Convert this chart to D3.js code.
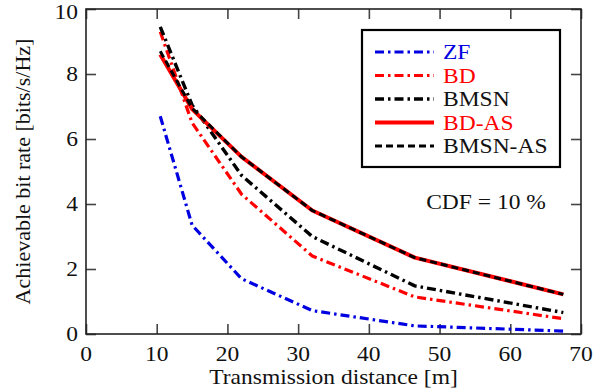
<!DOCTYPE html>
<html>
<head>
<meta charset="utf-8">
<script src="https://cdn.jsdelivr.net/npm/d3@7"></script>
<style>
  body { margin: 0; background: #fff; }
  text { font-family: "Liberation Serif", "Times New Roman", serif; fill: #111; }
</style>
</head>
<body>
<svg id="chart" width="616" height="391"></svg>
<script>
// transmission distance [m] and achievable bit rate per scheme
const distance = [10.5, 15, 22, 32, 46.5, 67.5];
const zf     = [6.7, 3.35, 1.7, 0.72, 0.25, 0.09];
const bd     = [9.3, 6.5, 4.3, 2.4, 1.14, 0.47];
const bmsn   = [9.45, 7.05, 4.88, 3.0, 1.48, 0.66];
const bdAs   = [8.6, 6.92, 5.45, 3.8, 2.35, 1.22];
const bmsnAs = [8.7, 6.95, 5.45, 3.8, 2.35, 1.22];
const seriesNames = ["ZF", "BD", "BMSN", "BD-AS", "BMSN-AS"];
const xTicks = [0, 10, 20, 30, 40, 50, 60, 70];
const yTicks = [0, 2, 4, 6, 8, 10];

const styles = {
    "ZF":      {color: "#0000e0", width: 3.2, dash: "9,4,2.5,4"},
    "BD":      {color: "#ff0000", width: 3.2, dash: "9,4,2.5,4"},
    "BMSN":    {color: "#000000", width: 3.4, dash: "9,4,2.5,4"},
    "BD-AS":   {color: "#ff0000", width: 4, dash: null},
    "BMSN-AS": {color: "#000000", width: 3, dash: "7,4"}
};
const valuesByName = {"ZF": zf, "BD": bd, "BMSN": bmsn, "BD-AS": bdAs, "BMSN-AS": bmsnAs};

const margin = {top: 9, left: 86, right: 35, bottom: 57},
    W = 616, H = 391,
    width = W - margin.left - margin.right,
    height = H - margin.top - margin.bottom,
    sx = 1.12, fs = 21;

const svg = d3.select("#chart");
const g = svg.append("g").attr("transform", "translate(" + margin.left + "," + margin.top + ")");

const x = d3.scaleLinear().domain([0, 70]).range([0, width]);
const y = d3.scaleLinear().domain([0, 10]).range([height, 0]);

function label(parent, px, py, str, anchor, color) {
    return parent.append("text")
        .attr("transform", "translate(" + px + "," + py + ") scale(" + sx + ",1)")
        .attr("text-anchor", anchor || "start")
        .style("font-size", fs + "px")
        .style("fill", color || "#111")
        .text(str);
}

// axes with inward ticks on all sides
const tl = 10;
g.append("g").attr("transform", "translate(0," + height + ")")
    .call(d3.axisBottom(x).tickValues(xTicks).tickSize(-tl).tickFormat(""));
g.append("g")
    .call(d3.axisTop(x).tickValues(xTicks).tickSize(-tl).tickFormat(""));
g.append("g")
    .call(d3.axisLeft(y).tickValues(yTicks).tickSize(-tl).tickFormat(""));
g.append("g").attr("transform", "translate(" + width + ",0)")
    .call(d3.axisRight(y).tickValues(yTicks).tickSize(-tl).tickFormat(""));
g.selectAll(".domain").remove();
g.selectAll(".tick line").attr("stroke", "#444").attr("stroke-width", 1.6);

xTicks.forEach(function(d) {
    label(g, x(d), height + 27, d, "middle");
});
yTicks.forEach(function(d) {
    // keep the top label inside the page
    label(g, -8, Math.max(y(d) + 7, 10), d, "end");
});

label(svg, margin.left + width / 2, 384, "Transmission distance [m]", "middle");
svg.append("text")
    .attr("transform", "translate(30," + (margin.top + height / 2) + ") rotate(-90)")
    .attr("text-anchor", "middle")
    .style("font-size", "22px")
    .text("Achievable bit rate [bits/s/Hz]");

// lines
const line = d3.line()
    .x(function(d) { return x(d[0]); })
    .y(function(d) { return y(d[1]); });

seriesNames.forEach(function(name) {
    const s = styles[name];
    const pts = distance.map(function(d, i) { return [d, valuesByName[name][i]]; });
    g.append("path")
        .datum(pts)
        .attr("d", line)
        .attr("fill", "none")
        .attr("stroke", s.color)
        .attr("stroke-width", s.width)
        .attr("stroke-dasharray", s.dash)
        .attr("stroke-linejoin", "round");
});

// frame
g.append("rect")
    .attr("width", width).attr("height", height)
    .attr("fill", "none").attr("stroke", "#222").attr("stroke-width", 1.6);

// legend
const lg = svg.append("g");
lg.append("rect")
    .attr("x", 362).attr("y", 30).attr("width", 198).attr("height", 137)
    .attr("fill", "#fff").attr("stroke", "#000").attr("stroke-width", 2.2);
seriesNames.forEach(function(name, i) {
    const s = styles[name], ly = 52 + i * 23.5;
    lg.append("line")
        .attr("x1", 375).attr("x2", 434).attr("y1", ly).attr("y2", ly)
        .attr("stroke", s.color)
        .attr("stroke-width", s.width)
        .attr("stroke-dasharray", s.dash);
    label(lg, 443, ly + 7, name, "start", name === "ZF" ? "#0000e0" : (s.color === "#ff0000" ? "#ff0000" : "#111"));
});

label(svg, 486, 209, "CDF = 10 %", "middle");
</script>
</body>
</html>
